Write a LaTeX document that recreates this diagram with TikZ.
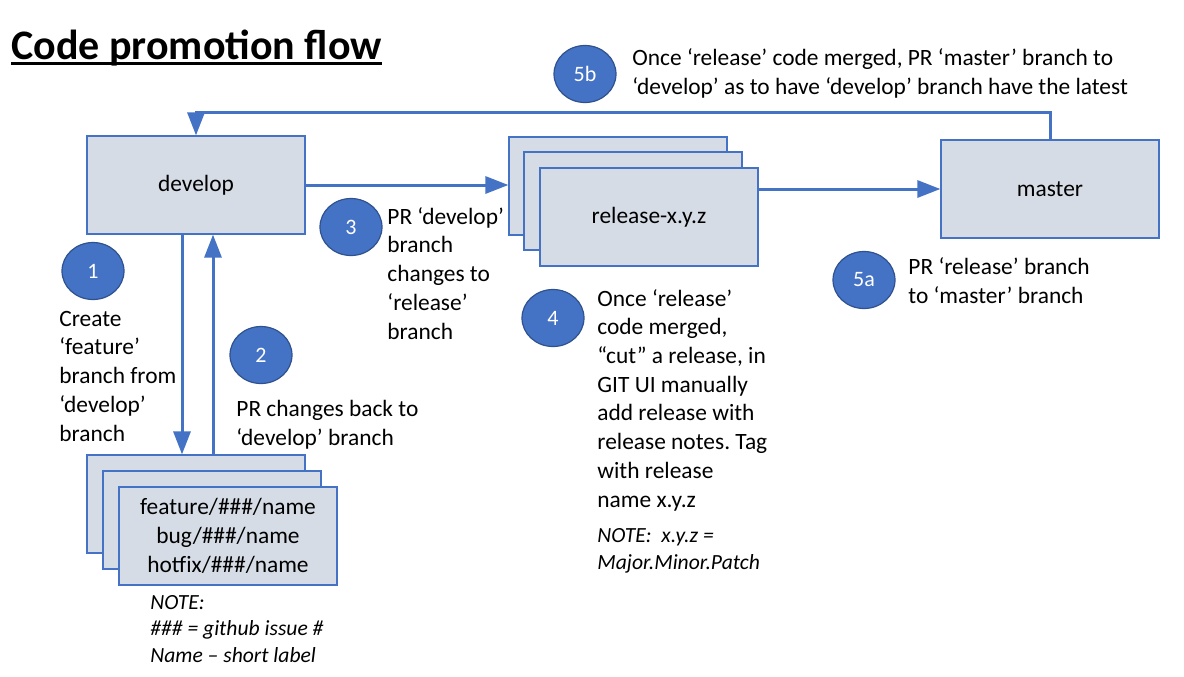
\documentclass[tikz,border=0pt]{standalone}
\usepackage{fontspec}
\setmainfont{Carlito}
\usetikzlibrary{arrows.meta,shapes.geometric}
\frenchspacing
\definecolor{cpfill}{HTML}{D6DCE5}
\definecolor{cpline}{HTML}{4472C4}
\definecolor{cpdark}{HTML}{2F528F}
\newcommand{\cpuline}[1]{\setbox0=\hbox{#1}\rlap{\copy0}\rule[-2.8pt]{\wd0}{1.1pt}}
\tikzset{
  branch/.style={rectangle, draw=cpline, fill=cpfill, line width=0.6pt,
                 align=center, font=\fontsize{11.7}{14.35}\selectfont,
                 minimum width=109pt, minimum height=49pt, inner sep=0pt},
  num/.style={ellipse, draw=cpdark, fill=cpline, line width=0.6pt, text=white,
              minimum width=31pt, minimum height=28.5pt, inner sep=0pt,
              font=\fontsize{11}{13}\selectfont},
  txt/.style={align=left, inner sep=0pt, anchor=base west,
              font=\fontsize{11.7}{14.35}\selectfont},
  nt/.style={align=left, inner sep=0pt, anchor=base west,
             font=\fontsize{10.8}{13.2}\selectfont\itshape},
  ar/.style={-{Triangle[length=11.5pt,width=8.5pt]}, draw=cpline, line width=1.5pt},
}
\begin{document}
\begin{tikzpicture}[x=0.5pt,y=0.5pt]
\useasboundingbox (0,0) rectangle (1184,-676);

% ---------- title ----------
\node[inner sep=0pt,anchor=base west,font=\fontsize{21}{25}\selectfont\bfseries] (title) at (11,-59)
   {\cpuline{Code promotion flow}};

% ---------- branches ----------
\node[branch] (dev) at (196,-185) {develop};
\node[branch] (rel0) at (618,-186) {};
\node[branch] (rel1) at (633,-201) {};
\node[branch] (rel2) at (649,-217) {release-x.y.z};
\node[branch] (mst) at (1050,-189) {master};
\node[branch] (ft0) at (196,-504) {};
\node[branch] (ft1) at (212,-520) {};
\node[branch] (ft2) at (228,-536)
   {feature/\#\#\#/name\\bug/\#\#\#/name\\hotfix/\#\#\#/name};

% ---------- flows ----------
\draw[ar] (dev.east) -- (dev.east -| rel0.west);
\draw[ar] (rel2.east |- mst.west) -- (mst.west);
\draw[ar] (mst.north) -- ++(0,27) -| (dev.north);
\draw[ar] ([xshift=-7pt]dev.south) -- ([xshift=-7pt]ft0.north);
\draw[ar] ([xshift=8.5pt]ft0.north) -- ([xshift=8.5pt]dev.south);

% ---------- steps (text anchored at its last baseline) ----------
\node[num] (c1) at (93,-271) {1};
\node[txt] (t1) at (59,-441) {Create\\‘feature’\\branch from\\‘develop’\\branch};

\node[num] (c2) at (261,-355) {2};
\node[txt] (t2) at (236,-445) {PR changes back to\\‘develop’ branch};

\node[num] (c3) at (351,-227) {3};
\node[txt] (t3) at (387,-339) {PR ‘develop’\\branch\\changes to\\‘release’\\branch};

\node[num] (c4) at (553,-318) {4};
\node[txt] (t4) at (597,-507)
   {Once ‘release’\\code merged,\\“cut” a release, in\\GIT UI manually\\add release with\\release notes. Tag\\with release\\name x.y.z};
\node[nt] (n4) at (597,-569) {NOTE:\ \ x.y.z =\\Major.Minor.Patch};

\node[num] (c5a) at (864,-280) {5a};
\node[txt] (t5a) at (908,-303) {PR ‘release’ branch\\to ‘master’ branch};

\node[num] (c5b) at (585,-74) {5b};
\node[txt] (t5b) at (632,-94)
   {Once ‘release’ code merged, PR ‘master’ branch to\\‘develop’ as to have ‘develop’ branch have the latest};

% ---------- feature note ----------
\node[nt] (nft) at (150,-662) {NOTE:\\\#\#\# = github issue \#\\Name – short label};
\end{tikzpicture}
\end{document}
